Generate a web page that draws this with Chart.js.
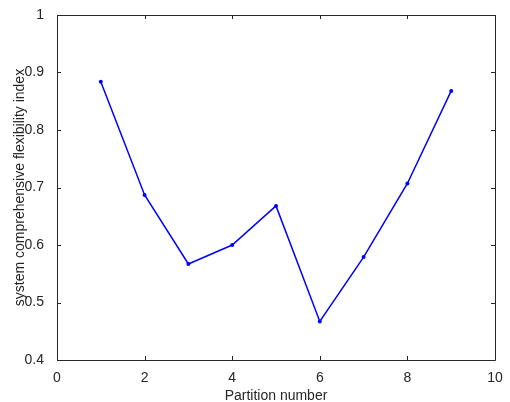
<!DOCTYPE html>
<html>
<head>
<meta charset="utf-8">
<script src="https://cdn.jsdelivr.net/npm/chart.js@4"></script>
<style>
    html, body { margin: 0; padding: 0; background: #ffffff; }
    #wrap { width: 510px; height: 402px; }
</style>
</head>
<body>
<div id="wrap"><canvas id="chart"></canvas></div>
<script>
// values
var partitions = [1, 2, 3, 4, 5, 6, 7, 8, 9];
var flexibility = [0.884, 0.687, 0.567, 0.600, 0.668, 0.467, 0.579, 0.707, 0.868];
var xTicks = [0, 2, 4, 6, 8, 10];
var yTicks = [0.4, 0.5, 0.6, 0.7, 0.8, 0.9, 1];

const axisColor = '#262626';

// MATLAB style box with inward ticks on all four sides
const boxPlugin = {
    id: 'matlabBox',
    afterDatasetsDraw(chart) {
        const ctx = chart.ctx;
        const a = chart.chartArea;
        const xs = chart.scales.x;
        const ys = chart.scales.y;
        const len = 4;
        ctx.save();
        ctx.strokeStyle = axisColor;
        ctx.lineWidth = 1;
        ctx.beginPath();
        ctx.rect(Math.round(a.left) + 0.5, Math.round(a.top) + 0.5,
                 Math.round(a.right - a.left), Math.round(a.bottom - a.top));
        xTicks.forEach(v => {
            const px = Math.round(xs.getPixelForValue(v)) + 0.5;
            ctx.moveTo(px, a.bottom); ctx.lineTo(px, a.bottom - len);
            ctx.moveTo(px, a.top); ctx.lineTo(px, a.top + len);
        });
        yTicks.forEach(v => {
            const py = Math.round(ys.getPixelForValue(v)) + 0.5;
            ctx.moveTo(a.left, py); ctx.lineTo(a.left + len, py);
            ctx.moveTo(a.right, py); ctx.lineTo(a.right - len, py);
        });
        ctx.stroke();
        ctx.restore();
    }
};

const points = partitions.map((p, i) => ({ x: p, y: flexibility[i] }));

new Chart(document.getElementById('chart'), {
    type: 'line',
    data: {
        datasets: [{
            data: points,
            borderColor: 'rgb(0, 0, 255)',
            backgroundColor: 'rgb(0, 0, 255)',
            borderWidth: 1.5,
            pointRadius: 2,
            pointHoverRadius: 2,
            pointBorderWidth: 0,
            tension: 0
        }]
    },
    options: {
        responsive: true,
        maintainAspectRatio: false,
        animation: false,
        layout: { padding: { top: 15, right: 15, left: 0, bottom: 0 } },
        plugins: {
            legend: { display: false },
            tooltip: { enabled: false }
        },
        scales: {
            x: {
                type: 'linear',
                min: 0,
                max: 10,
                afterBuildTicks: s => { s.ticks = xTicks.map(v => ({ value: v })); },
                afterFit: s => { s.height = 42; },
                grid: { display: false },
                border: { display: false },
                ticks: {
                    color: axisColor,
                    font: { family: 'Liberation Sans, Arial, sans-serif', size: 14 },
                    padding: 2,
                    maxRotation: 0
                },
                title: {
                    display: true,
                    text: 'Partition number',
                    color: axisColor,
                    font: { family: 'Liberation Sans, Arial, sans-serif', size: 14 },
                    padding: { top: 0, bottom: -3 }
                }
            },
            y: {
                type: 'linear',
                min: 0.4,
                max: 1,
                afterBuildTicks: s => { s.ticks = yTicks.map(v => ({ value: v })); },
                afterFit: s => { s.width = 57; },
                grid: { display: false },
                border: { display: false },
                ticks: {
                    color: axisColor,
                    font: { family: 'Liberation Sans, Arial, sans-serif', size: 14 },
                    padding: 5,
                    callback: v => String(Math.round(v * 10) / 10)
                },
                title: {
                    display: true,
                    text: 'system comprehensive flexibility index',
                    color: axisColor,
                    font: { family: 'Liberation Sans, Arial, sans-serif', size: 14 },
                    padding: { top: 12, bottom: 0 }
                }
            }
        }
    },
    plugins: [boxPlugin]
});
</script>
</body>
</html>
